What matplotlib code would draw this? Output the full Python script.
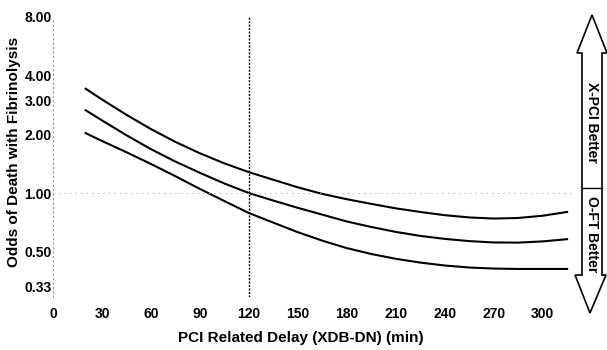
import matplotlib.pyplot as plt
from matplotlib.patches import Polygon
from matplotlib.lines import Line2D

# delay (min) and odds of death with fibrinolysis
delay = [20, 30, 45, 60, 75, 90, 105, 120, 135, 150, 165, 180, 195,
         210, 225, 240, 255, 270, 285, 300, 315]
upper = [3.43, 3.02, 2.52, 2.13, 1.83, 1.60, 1.42, 1.28, 1.17, 1.07, 0.99,
         0.93, 0.88, 0.835, 0.80, 0.77, 0.75, 0.74, 0.745, 0.765, 0.80]
middle = [2.66, 2.36, 1.98, 1.68, 1.45, 1.27, 1.12, 1.00, 0.915, 0.84, 0.775,
          0.715, 0.67, 0.632, 0.603, 0.582, 0.567, 0.558, 0.557, 0.565, 0.58]
lower = [2.03, 1.85, 1.62, 1.41, 1.22, 1.05, 0.91, 0.79, 0.705, 0.63, 0.57,
         0.522, 0.487, 0.46, 0.44, 0.425, 0.415, 0.41, 0.408, 0.408, 0.408]

y_ticks = [0.33, 0.5, 1, 2, 3, 4, 8]
y_labels = ["0.33", "0.50", "1.00", "2.00", "3.00", "4.00", "8.00"]
x_ticks = list(range(0, 301, 30))
cutoff = 120

plt.rcParams['font.family'] = ['Liberation Sans', 'DejaVu Sans']
plt.rcParams['font.weight'] = 'bold'

W, H = 607, 350
fig = plt.figure(figsize=(W / 100, H / 100), dpi=100)
ax = fig.add_axes([53 / W, 1 - 297 / H, (572 - 53) / W, (297 - 17) / H])

for s in (upper, middle, lower):
    ax.plot(delay, s, color='black', lw=1.5)

ax.set_yscale('log')
ax.set_xlim(0, 318)
ax.set_ylim(0.293, 8.0)
ax.axhline(1.0, color='#aaaaaa', lw=0.8, ls=(0, (1, 4)))
ax.axvline(cutoff, color='black', lw=1.0, ls=(0, (1.5, 1)))

ax.set_yticks(y_ticks)
ax.set_yticklabels(y_labels)
ax.yaxis.set_minor_locator(plt.NullLocator())
ax.set_xticks(x_ticks)
ax.tick_params(length=0, labelsize=10)
ax.tick_params(axis='y', pad=1)
ax.tick_params(axis='x', pad=7)

for side in ('top', 'right', 'bottom'):
    ax.spines[side].set_visible(False)
ax.spines['left'].set_color('#999999')
ax.spines['left'].set_linestyle((0, (1, 3)))
ax.spines['left'].set_linewidth(0.8)

fig.text(14 / W, 1 - 152 / H, "Odds of Death with Fibrinolysis", rotation=90,
         ha='center', va='center', fontsize=11, fontweight='bold')
fig.text(301 / W, 1 - 338 / H, "PCI Related Delay (XDB-DN) (min)",
         ha='center', va='center', fontsize=11, fontweight='bold')

# double-headed arrow on the right
pts = [(592, 15), (607, 53), (602, 53), (602, 275), (606, 275), (590, 313),
       (575, 275), (582, 275), (582, 53), (577, 53)]
arrow = Polygon([(x / W, 1 - y / H) for x, y in pts], closed=True,
                facecolor='white', edgecolor='black', lw=1.2,
                transform=fig.transFigure)
fig.add_artist(arrow)
fig.add_artist(Line2D([582 / W, 602 / W], [1 - 188 / H, 1 - 188 / H],
                      color='black', lw=1.0, transform=fig.transFigure))
fig.text(592 / W, 1 - 122 / H, "X-PCI Better", rotation=-90, ha='center',
         va='center', fontsize=10, fontweight='bold')
fig.text(592 / W, 1 - 234 / H, "O-FT Better", rotation=-90, ha='center',
         va='center', fontsize=10, fontweight='bold')

fig.savefig('out.png', dpi=100)
